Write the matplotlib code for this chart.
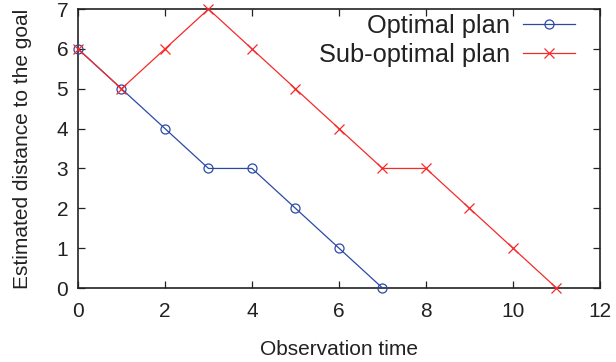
import matplotlib
matplotlib.use("Agg")
import matplotlib.pyplot as plt

plt.rcParams['font.family'] = ['Liberation Sans', 'DejaVu Sans']

t_opt = [0, 1, 2, 3, 4, 5, 6, 7]
d_opt = [6, 5, 4, 3, 3, 2, 1, 0]
t_sub = [0, 1, 2, 3, 4, 5, 6, 7, 8, 9, 10, 11]
d_sub = [6, 5, 6, 7, 6, 5, 4, 3, 3, 2, 1, 0]
xticks = [0, 2, 4, 6, 8, 10, 12]
yticks = [0, 1, 2, 3, 4, 5, 6, 7]

fig = plt.figure(figsize=(6.16, 3.62), dpi=100)
ax = fig.add_axes([0.1266, 0.2044, 0.974 - 0.1266, 0.975 - 0.2044])

blue = '#2b4aa6'
red = '#f52a2a'
ax.plot(t_opt, d_opt, color=blue, lw=0.9, marker='o', mfc='none', mec=blue,
        ms=6.5, mew=0.9, label='Optimal plan', clip_on=False, zorder=3)
ax.plot(t_sub, d_sub, color=red, lw=0.9, marker='x', mec=red,
        ms=6.5, mew=0.9, label='Sub-optimal plan', clip_on=False, zorder=3)

ax.set_xlim(0, 12)
ax.set_ylim(0, 7)
ax.set_xticks(xticks)
ax.set_yticks(yticks)
ax.tick_params(direction='in', length=5, width=0.9, top=True, right=True,
               labelsize=15, pad=7, colors='#222222')
ax.tick_params(axis='x', pad=10)
for s in ax.spines.values():
    s.set_linewidth(1.2)
    s.set_color('#222222')

ax.set_xlabel('Observation time', fontsize=15, labelpad=14, color='#222222')
ax.set_ylabel('Estimated distance to the goal', fontsize=15, labelpad=18, color='#222222')

leg = ax.legend(loc='upper right', frameon=False, markerfirst=False,
                fontsize=18.3, handlelength=2.05, handletextpad=0.5,
                labelspacing=0.2, borderaxespad=0.0,
                bbox_to_anchor=(0.972, 1.02))
for txt in leg.get_texts():
    txt.set_color('#222222')

fig.savefig('out.png', dpi=100)
